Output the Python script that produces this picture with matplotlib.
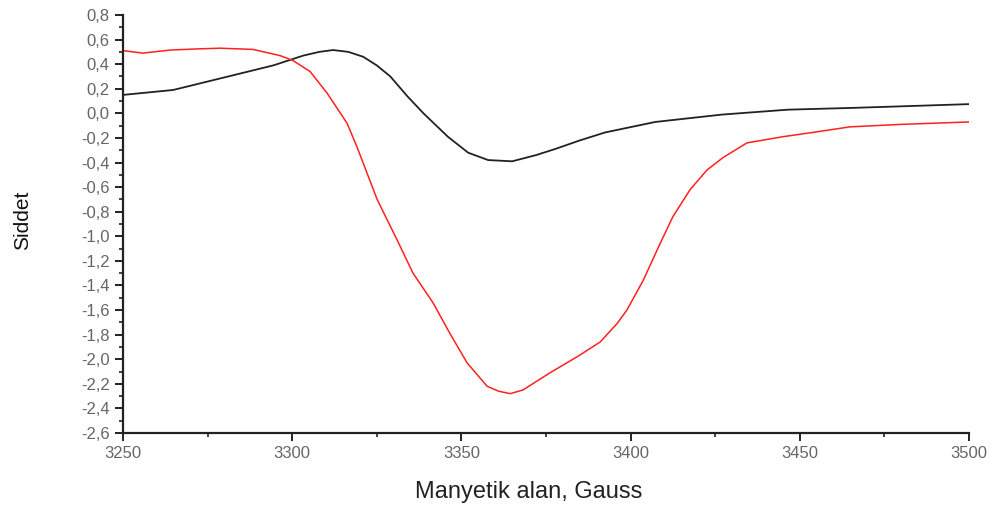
import numpy as np
import matplotlib
matplotlib.use('Agg')
import matplotlib.pyplot as plt
from matplotlib.ticker import MultipleLocator, FuncFormatter

plt.rcParams['font.family'] = ['Liberation Sans', 'DejaVu Sans']

# red curve (field in Gauss, intensity)
red_x = [3250.0, 3255.9, 3264.0, 3272.8, 3278.7, 3288.4, 3296.4, 3300.2, 3305.3,
         3310.3, 3316.2, 3319.1, 3325.1, 3331.0, 3335.7, 3341.6, 3346.6, 3351.7,
         3357.6, 3361.0, 3364.4, 3368.2, 3376.2, 3384.2, 3391.0, 3396.0, 3398.9, 3403.7,
         3408.7, 3412.5, 3417.6, 3422.6, 3427.3, 3434.4, 3445.0, 3455.1, 3464.8,
         3479.6, 3500.0]
red_y = [0.51, 0.49, 0.515, 0.525, 0.53, 0.52, 0.47, 0.43, 0.34,
         0.165, -0.08, -0.27, -0.70, -1.03, -1.30, -1.54, -1.79, -2.03,
         -2.22, -2.26, -2.28, -2.25, -2.11, -1.98, -1.86, -1.71, -1.60, -1.36,
         -1.06, -0.84, -0.62, -0.46, -0.36, -0.24, -0.19, -0.15, -0.11,
         -0.09, -0.07]

# black curve
black_x = [3250.0, 3264.8, 3279.6, 3294.4, 3303.3, 3308.0, 3312.1, 3316.6, 3321.0,
           3325.0, 3329.0, 3334.0, 3338.8, 3346.0, 3352.0, 3357.9, 3365.0, 3372.0,
           3377.7, 3385.0, 3392.5, 3407.3, 3427.0, 3446.5, 3466.3, 3500.0]
black_y = [0.15, 0.19, 0.29, 0.39, 0.47, 0.50, 0.515, 0.50, 0.46,
           0.39, 0.30, 0.14, 0.0, -0.19, -0.32, -0.38, -0.39, -0.34,
           -0.29, -0.22, -0.155, -0.07, -0.01, 0.03, 0.045, 0.075]

fig = plt.figure(figsize=(10, 5.12), dpi=100)
ax = fig.add_axes([0.123, 0.1543, 0.846, 0.8164])

ax.plot(black_x, black_y, color='#222222', lw=1.3)
ax.plot(red_x, red_y, color='#ff2020', lw=1.1)

ax.set_xlim(3250, 3500)
ax.set_ylim(-2.6, 0.8)

for s in ['top', 'right']:
    ax.spines[s].set_visible(False)
for s in ['left', 'bottom']:
    ax.spines[s].set_linewidth(1.6)
    ax.spines[s].set_color('#222222')

ax.xaxis.set_major_locator(MultipleLocator(50))
ax.xaxis.set_minor_locator(MultipleLocator(25))
ax.yaxis.set_major_locator(MultipleLocator(0.2))
ax.yaxis.set_minor_locator(MultipleLocator(0.1))
ax.yaxis.set_major_formatter(FuncFormatter(lambda v, p: '{:.1f}'.format(v).replace('.', ',').replace('-0,0', '0,0')))

ax.tick_params(which='major', direction='out', length=6, width=1.4, color='#222222',
               labelsize=12, labelcolor='#666666')
ax.tick_params(which='minor', direction='out', length=3, width=1.2, color='#222222')

ax.set_xlabel('Manyetik alan, Gauss', fontsize=17, color='#222222')
ax.set_ylabel('Siddet', fontsize=15, color='#111111')
ax.xaxis.set_label_coords(0.48, -0.115)
ax.yaxis.set_label_coords(-0.108, 0.51)

fig.savefig('out.png', dpi=100)
